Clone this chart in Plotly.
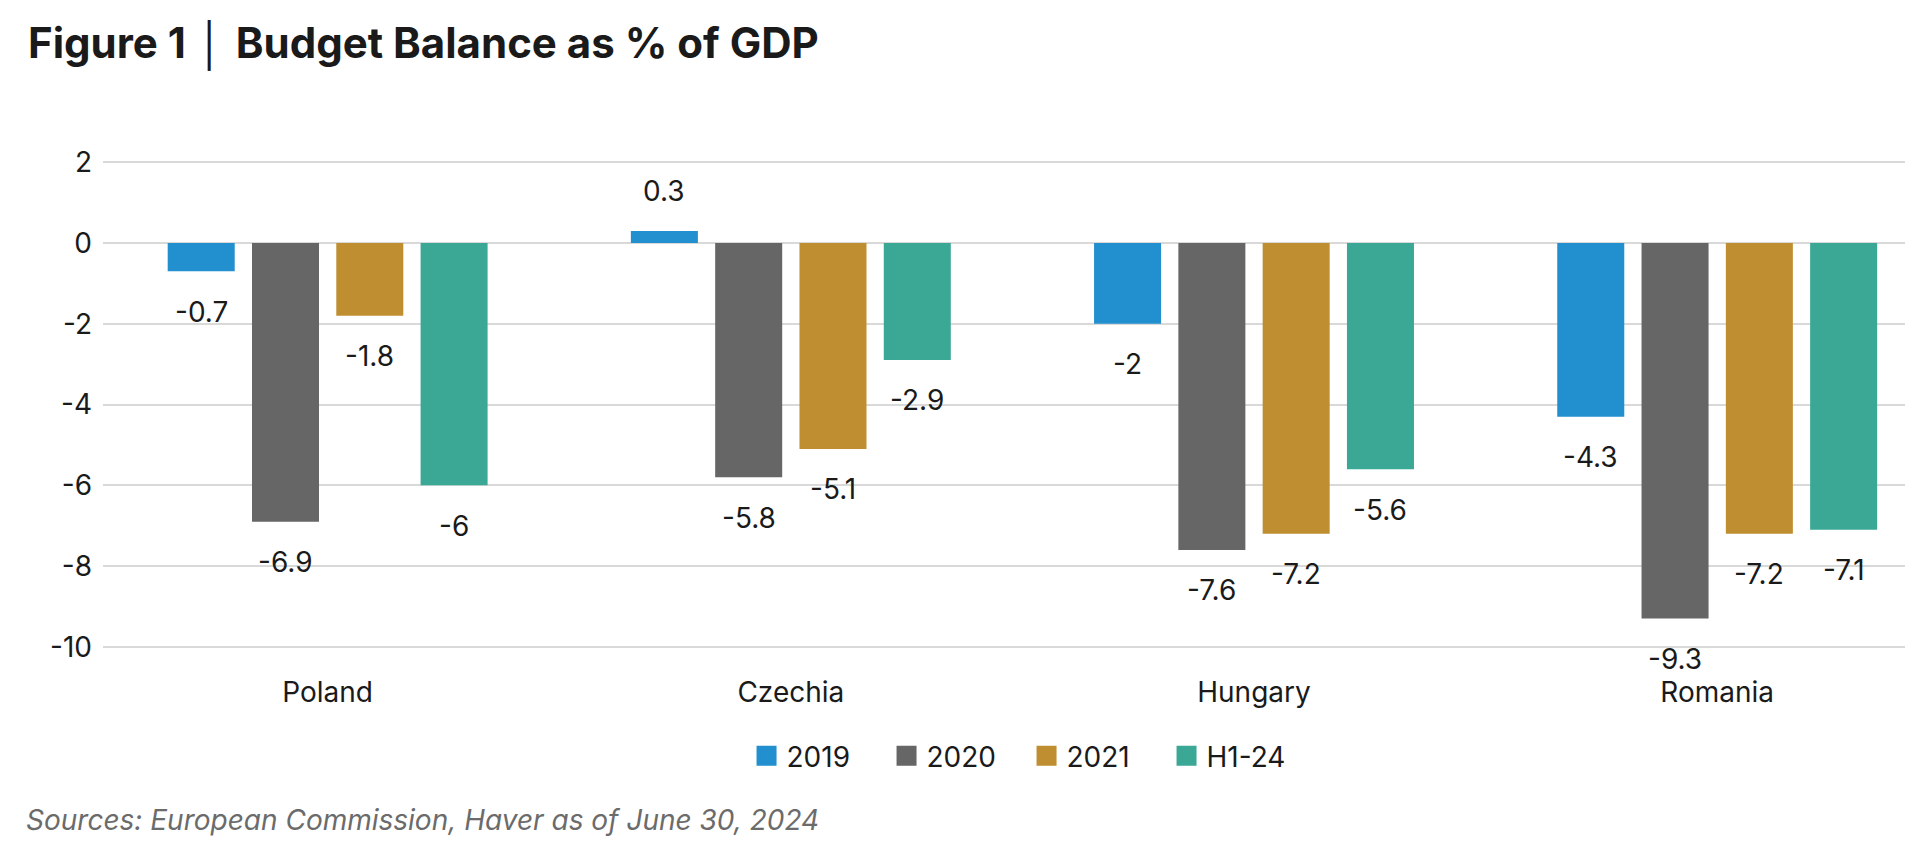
import plotly.graph_objects as go

categories = ["Poland", "Czechia", "Hungary", "Romania"]
series_names = ["2019", "2020", "2021", "H1-24"]
v2019 = [-0.7, 0.3, -2.0, -4.3]
v2020 = [-6.9, -5.8, -7.6, -9.3]
v2021 = [-1.8, -5.1, -7.2, -7.2]
vh124 = [-6.0, -2.9, -5.6, -7.1]
series_values = [v2019, v2020, v2021, vh124]
label_texts = [
    ["-0.7", "0.3", "-2", "-4.3"],
    ["-6.9", "-5.8", "-7.6", "-9.3"],
    ["-1.8", "-5.1", "-7.2", "-7.2"],
    ["-6", "-2.9", "-5.6", "-7.1"],
]
y_tickvals = [2, 0, -2, -4, -6, -8, -10]
y_ticktext = ["2", "0", "-2", "-4", "-6", "-8", "-10"]

colors = ["#228FCF", "#666666", "#BF8E30", "#3BA795"]
FONT = "Inter, Roboto, Arial, sans-serif"
TEXT = "#1a1a1a"

BARGAP = 0.272
BARGROUPGAP = 0.205
LABEL_OFFSET = 1.0

W, H = 1913, 866
T, B, L, R = 130, 207, 95, 0
PH = H - T - B
PW = W - L - R

fig = go.Figure()
for name, vals, col in zip(series_names, series_values, colors):
    fig.add_trace(go.Bar(name=name, x=categories, y=vals, marker=dict(color=col, line=dict(width=0)),
                         hoverinfo="skip", showlegend=False))
# legend entries with larger square swatches
for name, col in zip(series_names, colors):
    fig.add_trace(go.Scatter(name=name, x=[None], y=[None], mode="markers",
                             marker=dict(symbol="square", size=18, color=col, line=dict(color=col, width=4)),
                             showlegend=True))

n = len(series_names)
slot = (1 - BARGAP) / n
for j, (vals, texts) in enumerate(zip(series_values, label_texts)):
    off = -(1 - BARGAP) / 2 + slot * (j + 0.5)
    for i, (v, t) in enumerate(zip(vals, texts)):
        fig.add_annotation(
            x=i + off, y=v + (LABEL_OFFSET if v > 0 else -LABEL_OFFSET),
            xref="x", yref="y", text=t, showarrow=False,
            font=dict(family=FONT, size=28, color=TEXT),
            xanchor="center", yanchor="middle",
        )

fig.update_layout(
    width=W, height=H,
    paper_bgcolor="white", plot_bgcolor="white",
    barmode="group", bargap=BARGAP, bargroupgap=BARGROUPGAP,
    margin=dict(l=L, r=R, t=T, b=B, autoexpand=False),
    font=dict(family=FONT, size=28, color=TEXT),
    showlegend=True,
    legend=dict(orientation="h", x=0.508, xanchor="center", y=(T + PH - 748) / PH, yanchor="middle",
                font=dict(family=FONT, size=28, color=TEXT),
                entrywidth=95, itemwidth=30, traceorder="normal"),
    title=dict(
        text="<b>Figure 1</b> <span style='font-weight:300'>│</span> <b>Budget Balance as % of GDP</b>",
        x=20 / W, xanchor="left", xref="container",
        y=1 - 35 / H, yanchor="middle", yref="container",
        font=dict(family=FONT, size=42, color=TEXT)),
)

fig.update_xaxes(
    type="category", range=[-0.485, 3.44], showgrid=False, zeroline=False,
    showline=False, ticks="", ticklabelstandoff=6,
    tickfont=dict(family=FONT, size=28, color=TEXT),
)
fig.update_yaxes(
    range=[-10.5, 2.6], tickvals=y_tickvals, ticktext=y_ticktext,
    showgrid=True, gridcolor="#d9d9d9", gridwidth=2,
    zeroline=True, zerolinecolor="#d9d9d9", zerolinewidth=2,
    showline=False, ticks="", ticklabelstandoff=10,
    tickfont=dict(family=FONT, size=28, color=TEXT),
)

fig.add_annotation(
    x=(16 - L) / PW, y=(T + PH - 812) / PH, xref="paper", yref="paper",
    text="<i>Sources: European Commission, Haver as of June 30, 2024</i>",
    showarrow=False, xanchor="left", yanchor="middle",
    font=dict(family=FONT, size=28, color="#6b6b6b"),
)

fig.write_html("out.html")
